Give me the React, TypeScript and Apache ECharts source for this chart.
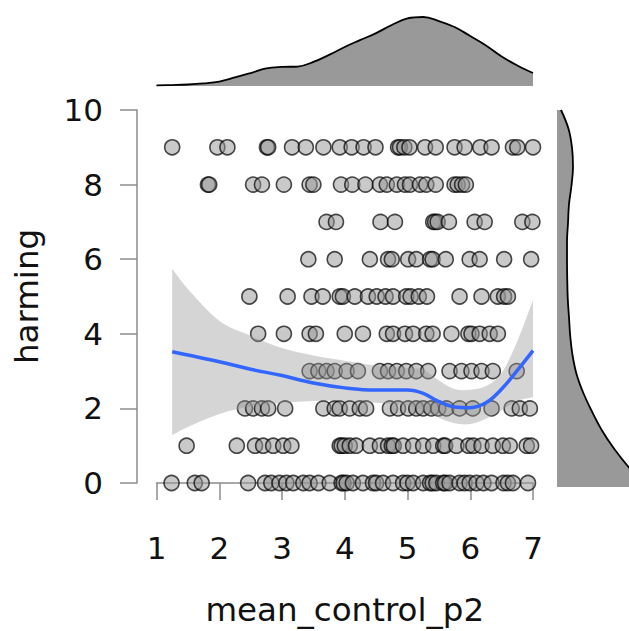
import React, { useEffect, useRef } from "react";
import * as echarts from "echarts";

// ---- scatter data: mean_control_p2 values for each harming level ----
const harmingLevels = [0, 1, 2, 3, 4, 5, 6, 7, 8, 9];
const x_h0 = [1.24, 1.61, 1.72, 2.46, 2.73, 2.83, 2.96, 3.07, 3.18, 3.34, 3.44, 3.58, 3.76, 3.95, 3.98, 4.03, 4.13, 4.29, 4.45, 4.5, 4.61, 4.77, 4.93, 5.0, 5.09, 5.25, 5.36, 5.4, 5.46, 5.57, 5.6, 5.67, 5.83, 5.91, 5.99, 6.1, 6.21, 6.34, 6.53, 6.6, 6.68, 6.92];
const x_h1 = [1.48, 2.28, 2.57, 2.7, 2.86, 3.02, 3.15, 3.92, 3.95, 4.0, 4.08, 4.18, 4.4, 4.56, 4.69, 4.75, 4.78, 4.93, 5.09, 5.25, 5.41, 5.57, 5.6, 5.78, 5.97, 6.05, 6.18, 6.36, 6.52, 6.63, 6.9, 6.97];
const x_h2 = [2.41, 2.54, 2.68, 2.78, 3.05, 3.66, 3.84, 3.92, 4.08, 4.24, 4.34, 4.72, 4.85, 5.01, 5.14, 5.25, 5.38, 5.49, 5.62, 5.83, 6.04, 6.34, 6.66, 6.79, 6.95];
const x_h3 = [3.44, 3.58, 3.71, 3.84, 4.03, 4.21, 4.56, 4.69, 4.83, 4.98, 5.14, 5.33, 5.67, 5.86, 6.02, 6.18, 6.36, 6.74];
const x_h4 = [2.62, 3.03, 3.44, 3.54, 4.0, 4.29, 4.67, 4.77, 4.96, 5.09, 5.3, 5.4, 5.7, 5.97, 6.02, 6.15, 6.31, 6.44];
const x_h5 = [2.48, 3.09, 3.47, 3.65, 3.92, 3.97, 4.16, 4.37, 4.51, 4.65, 4.77, 4.98, 5.05, 5.18, 5.31, 5.83, 6.18, 6.44, 6.54, 6.6];
const x_h6 = [3.42, 3.84, 4.4, 4.69, 4.75, 5.01, 5.14, 5.36, 5.4, 5.61, 5.99, 6.15, 6.54, 6.97];
const x_h7 = [3.71, 3.86, 4.57, 4.8, 5.41, 5.44, 5.48, 5.66, 6.07, 6.23, 6.83, 6.99];
const x_h8 = [1.82, 1.84, 2.54, 2.68, 3.03, 3.44, 3.5, 3.94, 4.12, 4.33, 4.56, 4.67, 4.83, 4.96, 5.04, 5.2, 5.3, 5.45, 5.75, 5.8, 5.87, 5.93];
const x_h9 = [1.25, 1.97, 2.13, 2.76, 2.78, 3.16, 3.38, 3.66, 3.92, 4.11, 4.3, 4.49, 4.85, 4.88, 4.95, 5.03, 5.28, 5.45, 5.75, 5.91, 6.16, 6.34, 6.68, 6.75, 7.0];
const xByLevel = [x_h0, x_h1, x_h2, x_h3, x_h4, x_h5, x_h6, x_h7, x_h8, x_h9];

// ---- smooth fit and confidence band ----
const fitX = [1.25, 1.5, 2, 2.5, 3, 3.5, 4, 4.5, 5, 5.25, 5.5, 5.75, 6, 6.25, 6.5, 6.75, 7];
const fitY = [3.52, 3.43, 3.25, 3.05, 2.88, 2.68, 2.55, 2.49, 2.49, 2.4, 2.18, 2.04, 2.02, 2.15, 2.52, 3.02, 3.55];
const fitUpper = [5.75, 5.2, 4.35, 3.95, 3.62, 3.42, 3.28, 3.15, 3.08, 3.03, 2.75, 2.52, 2.5, 2.6, 2.95, 3.8, 4.9];
const fitLower = [1.28, 1.5, 1.85, 2.05, 2.15, 2.2, 2.2, 2.15, 2.08, 1.95, 1.75, 1.6, 1.58, 1.72, 1.95, 2.2, 2.3];

// ---- marginal densities ----
const topDensX = [1.0, 1.25, 1.5, 1.75, 2.0, 2.25, 2.5, 2.75, 3.0, 3.25, 3.5, 3.75, 4.0, 4.25, 4.5, 4.75, 5.0, 5.25, 5.5, 5.75, 6.0, 6.25, 6.5, 6.75, 7.0];
const topDens = [0.003, 0.005, 0.008, 0.014, 0.024, 0.046, 0.07, 0.095, 0.103, 0.105, 0.13, 0.168, 0.211, 0.249, 0.286, 0.33, 0.365, 0.373, 0.351, 0.319, 0.27, 0.219, 0.159, 0.111, 0.07];
const rightDensY = ["0", "0.5", "1", "1.5", "2", "2.5", "3", "3.5", "4", "4.5", "5", "5.5", "6", "6.5", "7", "7.5", "8", "8.5", "9", "9.5", "10"];
const rightDens = [0.36, 0.29, 0.23, 0.18, 0.14, 0.105, 0.078, 0.062, 0.053, 0.048, 0.043, 0.041, 0.04, 0.04, 0.044, 0.048, 0.058, 0.064, 0.06, 0.046, 0.016];

const xTickLabels = ["1", "2", "3", "4", "5", "6", "7"];
const yTickLabels = ["0", "2", "4", "6", "8", "10"];

const FONT = "DejaVu Sans";
const AXIS_COLOR = "#8c8c8c";

function smoothPath(pts: number[][]): string {
  let d = "";
  for (let i = 0; i < pts.length - 1; i++) {
    const p0 = pts[Math.max(0, i - 1)];
    const p1 = pts[i];
    const p2 = pts[i + 1];
    const p3 = pts[Math.min(pts.length - 1, i + 2)];
    const c1x = p1[0] + (p2[0] - p0[0]) / 6;
    const c1y = p1[1] + (p2[1] - p0[1]) / 6;
    const c2x = p2[0] - (p3[0] - p1[0]) / 6;
    const c2y = p2[1] - (p3[1] - p1[1]) / 6;
    d += ` C ${c1x} ${c1y} ${c2x} ${c2y} ${p2[0]} ${p2[1]}`;
  }
  return d;
}

export default function App() {
  const ref = useRef<HTMLDivElement>(null);

  useEffect(() => {
    if (!ref.current) return;
    const chart = echarts.init(ref.current, undefined, { renderer: "svg", width: 629, height: 631 });

    const scatterData: number[][] = [];
    harmingLevels.forEach((lvl, i) => {
      xByLevel[i].forEach((x) => scatterData.push([x, lvl]));
    });

    const option: any = {
      animation: false,
      backgroundColor: "#ffffff",
      textStyle: { fontFamily: FONT },
      grid: [
        { left: 156.5, width: 376.5, top: 110, height: 377 },
        { left: 156.5, width: 376.5, top: 12, height: 74 },
        { left: 557, width: 72, top: 110, height: 377 },
      ],
      xAxis: [
        {
          gridIndex: 0,
          type: "value",
          min: 1,
          max: 7,
          interval: 1,
          offset: 19,
          axisLine: { show: true, lineStyle: { color: AXIS_COLOR, width: 1.5 } },
          axisTick: { show: true, length: 17, lineStyle: { color: AXIS_COLOR, width: 1.5 } },
          axisLabel: {
            fontSize: 31,
            color: "#111",
            fontFamily: FONT,
            margin: 30,
            formatter: (v: number) => xTickLabels[Math.round(v) - 1] ?? "",
          },
          splitLine: { show: false },
          name: "mean_control_p2",
          nameLocation: "middle",
          nameGap: 91,
          nameTextStyle: { fontSize: 32.5, color: "#111", fontFamily: FONT },
        },
        { gridIndex: 1, type: "value", min: 1, max: 7, show: false },
        { gridIndex: 2, type: "value", min: 0, max: 0.288, show: false },
      ],
      yAxis: [
        {
          gridIndex: 0,
          type: "value",
          min: 0,
          max: 10,
          interval: 2,
          offset: 19.5,
          axisLine: { show: true, lineStyle: { color: AXIS_COLOR, width: 1.5 } },
          axisTick: { show: true, length: 17, lineStyle: { color: AXIS_COLOR, width: 1.5 } },
          axisLabel: {
            fontSize: 31,
            color: "#111",
            fontFamily: FONT,
            margin: 34,
            formatter: (v: number) => yTickLabels[Math.round(v / 2)] ?? "",
          },
          splitLine: { show: false },
          name: "harming",
          nameLocation: "middle",
          nameGap: 94,
          nameTextStyle: { fontSize: 32.5, color: "#111", fontFamily: FONT },
        },
        { gridIndex: 1, type: "value", min: 0, max: 0.4, show: false },
        { gridIndex: 2, type: "category", data: rightDensY, boundaryGap: false, show: false },
      ],
      series: [
        {
          type: "scatter",
          xAxisIndex: 0,
          yAxisIndex: 0,
          data: scatterData,
          symbol: "circle",
          symbolSize: 15,
          itemStyle: {
            color: "rgba(150,150,150,0.64)",
            borderColor: "rgba(0,0,0,0.88)",
            borderWidth: 1.6,
          },
          z: 2,
        },
        {
          type: "custom",
          xAxisIndex: 0,
          yAxisIndex: 0,
          coordinateSystem: "cartesian2d",
          data: [[fitX[0], fitY[0]]],
          z: 3,
          silent: true,
          renderItem: (params: any, api: any) => {
            const up = fitX.map((x, i) => api.coord([x, fitUpper[i]]));
            const lo = fitX.map((x, i) => api.coord([x, fitLower[i]])).reverse();
            let d = `M ${up[0][0]} ${up[0][1]}`;
            d += smoothPath(up);
            d += ` L ${lo[0][0]} ${lo[0][1]}`;
            d += smoothPath(lo);
            d += " Z";
            return {
              type: "path",
              shape: { pathData: d },
              style: { fill: "rgba(150,150,150,0.4)", stroke: "none" },
            };
          },
        },
        {
          type: "line",
          xAxisIndex: 0,
          yAxisIndex: 0,
          data: fitX.map((x, i) => [x, fitY[i]]),
          symbol: "none",
          smooth: 0.4,
          lineStyle: { color: "#3366FF", width: 3.5 },
          z: 4,
        },
        {
          type: "line",
          xAxisIndex: 1,
          yAxisIndex: 1,
          data: topDensX.map((x, i) => [x, topDens[i]]),
          symbol: "none",
          smooth: 0.4,
          lineStyle: { color: "#000", width: 1.8 },
          areaStyle: { color: "#999999", opacity: 1 },
        },
        {
          type: "line",
          xAxisIndex: 2,
          yAxisIndex: 2,
          data: rightDensY.map((y, i) => [rightDens[i], y]),
          symbol: "none",
          smooth: 0.4,
          lineStyle: { color: "#000", width: 1.8 },
          areaStyle: { color: "#999999", opacity: 1 },
        },
      ],
    };

    chart.setOption(option);
    return () => chart.dispose();
  }, []);

  return (
    <div
      ref={ref}
      style={{ position: "absolute", left: 0, top: 0, width: 629, height: 631, background: "#fff" }}
    />
  );
}
